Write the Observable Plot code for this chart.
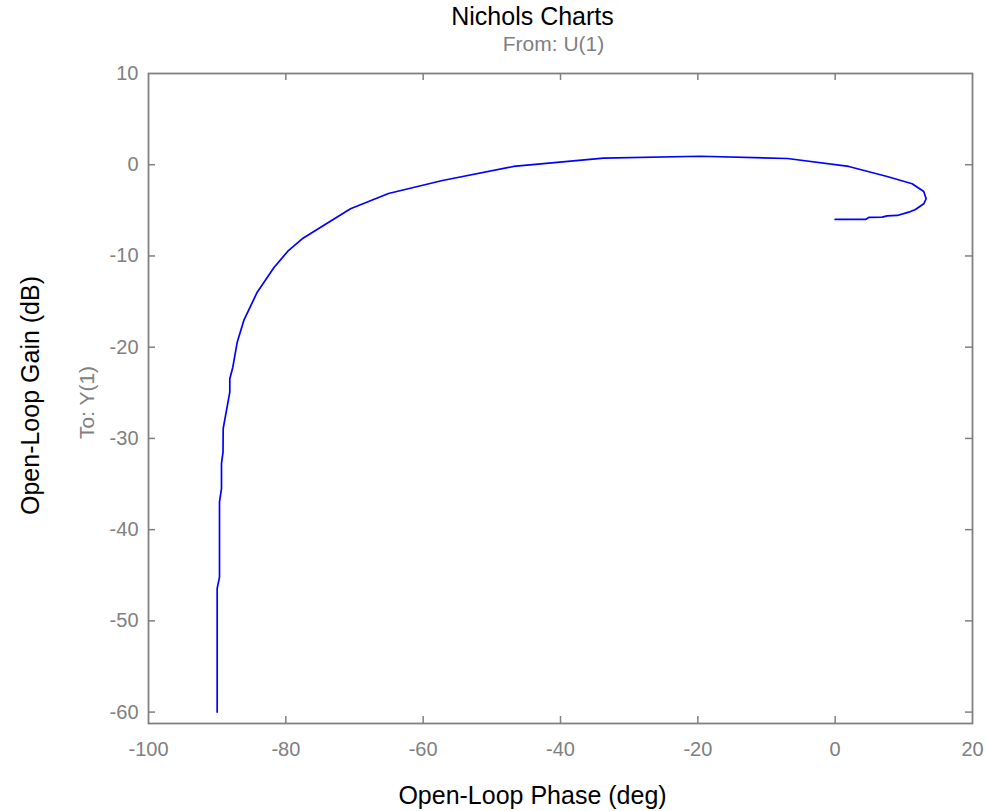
<!DOCTYPE html>
<html>
<head>
<meta charset="utf-8">
<script src="https://cdn.jsdelivr.net/npm/d3@7"></script>
<script src="https://cdn.jsdelivr.net/npm/@observablehq/plot@0.6"></script>
<style>
  body { margin: 0; background: #fff; }
  #chart svg { display: block; }
</style>
</head>
<body>
<div id="chart"></div>
<script>
// Open-loop phase (deg) and gain (dB), low to high frequency
const phase = [0, 4.41, 4.89, 6.84, 7.57, 9.03, 10.72, 11.69, 12.9, 13.25, 12.9, 11.21, 7.57, 1.98,
  -6.95, -19.62, -33.74, -46.85, -57.19, -65.05, -70.58, -77.62, -79.71, -81.75, -84.17, -86.12,
  -87.08, -87.72, -88.16, -88.16, -89.12, -89.15, -89.37, -89.37, -89.66, -89.66, -90.0, -90.0];
const gain = [-6.0, -6.0, -5.78, -5.75, -5.6, -5.56, -5.2, -4.9, -4.28, -3.73, -2.93, -2.09, -1.29, -0.19,
  0.68, 0.93, 0.72, -0.19, -1.73, -3.15, -4.83, -8.12, -9.48, -11.3, -13.97, -17.07,
  -19.45, -22.19, -23.46, -24.93, -28.9, -31.5, -32.74, -35.48, -36.99, -45.2, -46.44, -60.0];

const xTicks = [-100, -80, -60, -40, -20, 0, 20];
const yTicks = [10, 0, -10, -20, -30, -40, -50, -60];
const xDomain = [-100, 20];
const yDomain = [-61.25, 10];

const titleText = "Nichols Charts";
const fromText = "From: U(1)";
const toText = "To: Y(1)";
const xLabel = "Open-Loop Phase (deg)";
const yLabel = "Open-Loop Gain (dB)";

const points = phase.map((p, i) => ({phase: p, gain: gain[i]}));

const W = 986, H = 811;
const mT = 73, mB = 88, mL = 148, mR = 14;
const frameH = H - mT - mB;
const frameW = W - mL - mR;
const tk = 7;
const gray = "#808080";
const font = "'Liberation Sans', Arial, Helvetica, sans-serif";
const fmt = d => String(d);

const innerX = xTicks.filter(v => v > xDomain[0] && v < xDomain[1]);
const innerY = yTicks.filter(v => v > yDomain[0] && v < yDomain[1]);

const chart = Plot.plot({
  width: W,
  height: H,
  marginTop: mT,
  marginBottom: mB,
  marginLeft: mL,
  marginRight: mR,
  style: {fontFamily: font, background: "#fff"},
  x: {domain: xDomain},
  y: {domain: yDomain},
  marks: [
    Plot.axisX(xTicks, {anchor: "bottom", tickSize: 0, tickPadding: 18, fontSize: 20, fill: gray, label: null, tickFormat: fmt}),
    Plot.axisY(yTicks, {anchor: "left", tickSize: 0, tickPadding: 10, fontSize: 20, fill: gray, label: null, tickFormat: fmt}),
    Plot.tickX(innerX, {x: d => d, stroke: gray, strokeWidth: 1.5, insetTop: frameH - tk}),
    Plot.tickX(innerX, {x: d => d, stroke: gray, strokeWidth: 1.5, insetBottom: frameH - tk}),
    Plot.tickY(innerY, {y: d => d, stroke: gray, strokeWidth: 1.5, insetRight: frameW - tk}),
    Plot.tickY(innerY, {y: d => d, stroke: gray, strokeWidth: 1.5, insetLeft: frameW - tk}),
    Plot.frame({stroke: gray, strokeWidth: 1.8}),
    Plot.line(points, {x: "phase", y: "gain", stroke: "#0000ff", strokeWidth: 1.7, curve: "linear"}),
    Plot.text([titleText], {frameAnchor: "top", dx: -28, dy: -57, fontSize: 25, fill: "#000", textAnchor: "middle", lineAnchor: "middle"}),
    Plot.text([fromText], {frameAnchor: "top", dx: -7, dy: -29, fontSize: 21, fill: gray, textAnchor: "middle", lineAnchor: "middle"}),
    Plot.text([xLabel], {frameAnchor: "bottom", dx: -28, dy: 72, fontSize: 25, fill: "#000", textAnchor: "middle", lineAnchor: "middle"}),
    Plot.text([yLabel], {frameAnchor: "left", dx: -118, dy: -3, rotate: -90, fontSize: 25, fill: "#000", textAnchor: "middle", lineAnchor: "middle"}),
    Plot.text([toText], {frameAnchor: "left", dx: -61, dy: 4, rotate: -90, fontSize: 21, fill: gray, textAnchor: "middle", lineAnchor: "middle"})
  ]
});

document.getElementById("chart").appendChild(chart);
</script>
</body>
</html>
